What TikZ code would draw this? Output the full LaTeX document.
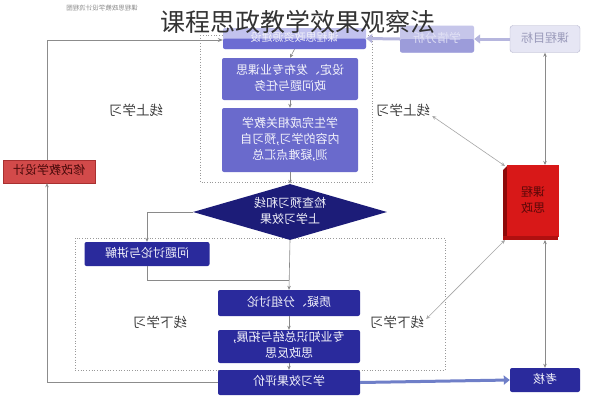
\documentclass[tikz,border=0pt]{standalone}
\usepackage{fontspec}
\usepackage{graphicx}
\setmainfont{Noto Sans CJK SC}
\usetikzlibrary{shapes.geometric,arrows.meta}
\newcommand{\mirt}[1]{\reflectbox{\begin{tabular}{@{}c@{}}#1\end{tabular}}}
\definecolor{boxp}{HTML}{6A6ACC}
\definecolor{boxd}{HTML}{2A2A9C}
\definecolor{diac}{HTML}{1C1C78}
\definecolor{linec}{HTML}{8A8A8A}
\definecolor{redc}{HTML}{D81818}
\definecolor{redl}{HTML}{D24A4A}
\definecolor{tbtop}{HTML}{C2C2EE}
\definecolor{tbbot}{HTML}{6C6CD2}
\definecolor{xqtop}{HTML}{C6C6EA}
\definecolor{xqbot}{HTML}{9C9CDA}
\definecolor{mbfill}{HTML}{E6E6F4}
\definecolor{mbdraw}{HTML}{B4B4CC}
\definecolor{mbtext}{HTML}{9A9ABA}
\definecolor{arrl}{HTML}{B6B6DE}
\definecolor{arrb}{HTML}{6F7FC8}
\definecolor{redside}{HTML}{8E0A0A}
\definecolor{redbot}{HTML}{B01010}
\definecolor{redtext}{HTML}{5A0808}
\definecolor{redldraw}{HTML}{A83030}
\definecolor{redltext}{HTML}{4A0A0A}
\tikzset{
  pbox/.style={fill=boxp, rounded corners=2pt, inner sep=0pt},
  dbox/.style={fill=boxd, rounded corners=2pt, inner sep=0pt},
  btext/.style={text=white!92!boxp, font=\fontsize{12}{16}\selectfont, inner sep=0pt},
  lab/.style={text=black!75, font=\fontsize{13.5}{16}\selectfont, inner sep=0pt},
  conn/.style={draw=linec, line width=0.6pt, -{Stealth[length=4pt,width=3.5pt]}},
  loopl/.style={draw=black!45, line width=0.8pt},
  frame/.style={draw=black!40, line width=0.7pt, dotted},
  thickarr/.style={line width=3pt, -{Triangle[length=6pt,width=9pt]}},
}
\begin{document}
\begin{tikzpicture}[x=1pt,y=-1pt]
\useasboundingbox (0,0) rectangle (592,400);
\fill[white] (0,0) rectangle (592,400);
% dashed frames
\draw[frame] (200,35) rectangle (372,182);
\draw[frame] (75,238) rectangle (445,370);
% tiny caption
\node[text=black!45, font=\fontsize{6.5}{7}\selectfont, inner sep=0pt] (cap) at (102,8) {\reflectbox{课程思政教学设计流程图}};
% top row
\node[pbox, fill=tbtop, minimum width=143pt, minimum height=21pt] (tb) at (294.5,38.5) {};
\fill[tbbot, rounded corners=2pt] (223,38.5) rectangle (366,49);
\node[btext, text=white!90!boxp, font=\fontsize{11}{14}\selectfont] at (tb) {\mirt{课程思政资源建设}};
\node[fill=xqtop, rounded corners=2pt, minimum width=74pt, minimum height=27pt, inner sep=0pt] (xq) at (437,39) {};
\fill[xqbot, rounded corners=2pt] (400,39) rectangle (474,52.5);
\node[btext, text=white!80!boxp] at (xq) {\mirt{学情分析}};
\node[fill=mbfill, draw=mbdraw, rounded corners=3pt, minimum width=70pt, minimum height=27pt, inner sep=0pt] (mb) at (545,39) {};
\node[btext, text=mbtext] at (mb) {\mirt{课程目标}};
\draw[thickarr, arrl] (mb.west) -- (xq.east);
\draw[thickarr, arrl] (xq.west) -- (tb.east);
% upper flow
\node[pbox, minimum width=136pt, minimum height=42pt] (b2) at (290,79) {};
\node[btext] at (b2) {\mirt{设定、发布专业课思\\政问题与任务}};
\node[pbox, minimum width=136pt, minimum height=64pt] (b3) at (290,140) {};
\node[btext] at (b3) {\mirt{学生完成相关教学\\内容的学习,预习自\\测,疑难点汇总}};
\node[diamond, fill=diac, minimum width=194pt, minimum height=56pt, inner sep=0pt] (dia) at (290,212) {};
\node[btext] at (dia) {\mirt{检查预习和线\\上学习效果}};
\draw[conn] (tb.south) -- (b2.north);
\draw[conn] (b2.south) -- (b3.north);
\draw[conn] (b3.south) -- (dia.north);
% lower flow
\node[dbox, minimum width=125pt, minimum height=24pt] (qd) at (147,254) {};
\node[btext] at (qd) {\mirt{问题讨论与讲解}};
\node[dbox, minimum width=142pt, minimum height=26pt] (zy) at (289,303) {};
\node[btext] at (zy) {\mirt{质疑、分组讨论}};
\node[dbox, minimum width=142pt, minimum height=33pt] (zs) at (289,346.5) {};
\node[btext] at (zs) {\mirt{专业知识总结与拓展,\\思政反思}};
\node[dbox, minimum width=142pt, minimum height=25pt] (pj) at (289,382.5) {};
\node[btext] at (pj) {\mirt{学习效果评价}};
\node[dbox, minimum width=70pt, minimum height=24pt] (kh) at (545,380) {};
\node[btext] at (kh) {\mirt{考核}};
\coordinate (jn) at (289,280);
\draw[conn] (dia.west) -| (qd.north);
\draw[draw=linec, line width=0.6pt] (qd.south) |- (jn);
\draw[conn] (dia.south) -- (zy.north);
\draw[conn] (zy.south) -- (zs.north);
\draw[conn] (zs.south) -- (pj.north);
\draw[thickarr, arrb] (pj.east) -- (kh.west);
% red boxes
\fill[redside] (503,170) -- (508,165) -- (508,236) -- (503,240) -- cycle;
\node[fill=redc, minimum width=52pt, minimum height=72pt, inner sep=0pt] (kc) at (533,201) {};
\fill[redbot] (503,236) rectangle (558,240);
\node[text=redtext, font=\fontsize{12}{16}\selectfont, inner sep=0pt] at (kc) {\mirt{课程\\思政}};
\node[fill=redl, draw=redldraw, minimum width=92pt, minimum height=23pt, inner sep=0pt] (xg) at (49,171.5) {};
\node[text=redltext, font=\fontsize{12}{16}\selectfont, inner sep=0pt] at (xg) {\mirt{修改教学设计}};
% loop on the left
\coordinate (lb) at (47,382.5);
\coordinate (lt) at (47,40);
\draw[loopl, -{Stealth[length=4pt,width=3.5pt]}] (pj.west) -- (lb) -- (xg.south -| lb);
\draw[loopl, -{Stealth[length=5pt,width=4pt]}] (xg.north -| lt) -- (lt) -- (tb.west |- lt);
% right side links
\coordinate (kct) at (545,165);
\coordinate (kcb) at (545,240);
\draw[linec, line width=0.6pt, {Stealth[length=4pt,width=3.5pt]}-{Stealth[length=4pt,width=3.5pt]}] (mb.south) -- (kct);
\draw[linec, line width=0.6pt, {Stealth[length=4pt,width=3.5pt]}-{Stealth[length=4pt,width=3.5pt]}] (kcb) -- (kh.north);
% labels
\node[lab] (l1) at (136,110) {\reflectbox{线上学习}};
\node[lab] (r1) at (403,110) {\reflectbox{线上学习}};
\node[lab] (l2) at (160,322) {\reflectbox{线下学习}};
\node[lab] (r2) at (397,322) {\reflectbox{线下学习}};
\coordinate (kcnw) at (505,166);
\coordinate (kcsw) at (505,240);
\draw[black!35, line width=0.6pt, {Stealth[length=4pt,width=3.5pt]}-{Stealth[length=4pt,width=3.5pt]}] ([xshift=2pt,yshift=-6pt]r1.east) -- (kcnw);
\draw[black!35, line width=0.6pt, {Stealth[length=4pt,width=3.5pt]}-{Stealth[length=4pt,width=3.5pt]}] ([xshift=2pt,yshift=3pt]r2.east) -- (kcsw);
% title
\node[text=black!80, font=\fontsize{25}{28}\selectfont, inner sep=0pt] (title) at (298,22) {课程思政教学效果观察法};
\end{tikzpicture}
\end{document}
